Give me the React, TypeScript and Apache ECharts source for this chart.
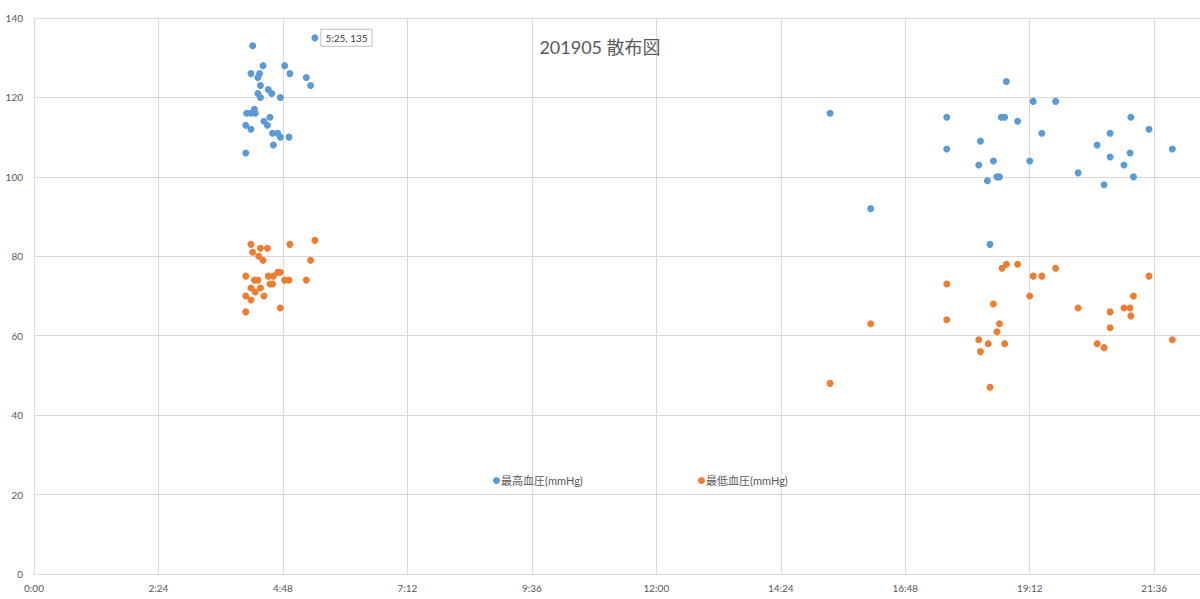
import React, { useEffect, useRef } from 'react';
import * as echarts from 'echarts';

// 時刻 (H:MM) と血圧の値
const highTimes = [
  '4:05', '4:05', '4:06', '4:11', '4:11', '4:11', '4:13', '4:15', '4:16', '4:19', '4:19',
  '4:21', '4:22', '4:22', '4:25', '4:26', '4:30', '4:31', '4:33', '4:35', '4:36', '4:37',
  '4:42', '4:45', '4:45', '4:50', '4:55', '4:56', '5:15', '5:20', '5:25',
  '15:21', '16:08', '17:36', '17:36', '18:13', '18:15', '18:23', '18:26', '18:30', '18:34',
  '18:37', '18:39', '18:43', '18:45', '18:58', '19:12', '19:16', '19:26', '19:42', '20:08',
  '20:30', '20:38', '20:45', '20:45', '21:01', '21:08', '21:09', '21:12', '21:30', '21:57'
];
const highValues = [
  106, 113, 116, 116, 112, 126, 133, 117, 116, 121, 125,
  126, 120, 123, 128, 114, 113, 122, 115, 121, 111, 108,
  111, 120, 110, 128, 110, 126, 125, 123, 135,
  116, 92, 115, 107, 103, 109, 99, 83, 104, 100,
  100, 115, 115, 124, 114, 104, 119, 111, 119, 101,
  108, 98, 111, 105, 103, 106, 115, 100, 112, 107
];

const lowTimes = [
  '4:05', '4:05', '4:05', '4:11', '4:11', '4:11', '4:13', '4:15', '4:16', '4:19', '4:20',
  '4:22', '4:22', '4:25', '4:26', '4:30', '4:31', '4:33', '4:36', '4:37', '4:42', '4:45',
  '4:45', '4:50', '4:55', '4:56', '5:15', '5:20', '5:25',
  '15:21', '16:08', '17:36', '17:36', '18:13', '18:15', '18:24', '18:26', '18:30', '18:34',
  '18:37', '18:40', '18:43', '18:45', '18:58', '19:12', '19:16', '19:26', '19:42', '20:08',
  '20:30', '20:38', '20:45', '20:45', '21:01', '21:08', '21:09', '21:12', '21:30', '21:57'
];
const lowValues = [
  75, 70, 66, 83, 72, 69, 81, 74, 71, 74, 80,
  82, 72, 79, 70, 82, 75, 73, 73, 75, 76, 76,
  67, 74, 74, 83, 74, 79, 84,
  48, 63, 73, 64, 59, 56, 58, 47, 68, 61,
  63, 77, 58, 78, 78, 70, 75, 75, 77, 67,
  58, 57, 66, 62, 67, 67, 65, 70, 75, 59
];

const seriesNames = ['最高血圧(mmHg)', '最低血圧(mmHg)'];
const colors = ['#5B9BD5', '#ED7D31'];
const titleText = '201905 散布図';
const labeledTime = '5:25';

const toMinutes = (t: string) => {
  const [h, m] = t.split(':').map(Number);
  return h * 60 + m;
};
const fmtTime = (v: number) =>
  `${Math.floor(v / 60)}:${String(Math.round(v % 60)).padStart(2, '0')}`;

const FONT = 'Lato, "Noto Sans CJK JP", sans-serif';

const App: React.FC = () => {
  const chartRef = useRef<HTMLDivElement>(null);

  useEffect(() => {
    document.body.style.margin = '0';
    if (!chartRef.current) return;
    const chart = echarts.init(chartRef.current, null, { renderer: 'svg' });

    const highData = highTimes.map((t, i) => {
      const point = [toMinutes(t), highValues[i]];
      if (t === labeledTime) {
        return {
          value: point,
          label: {
            show: true,
            position: 'right',
            distance: 3,
            formatter: `${fmtTime(point[0])}, ${point[1]}`,
            color: '#404040',
            fontSize: 10,
            fontFamily: FONT,
            backgroundColor: '#fff',
            borderColor: '#bfbfbf',
            borderWidth: 1,
            padding: [3, 4, 3, 4]
          }
        };
      }
      return point;
    });
    const lowData = lowTimes.map((t, i) => [toMinutes(t), lowValues[i]]);

    const legendText = { color: '#595959', fontSize: 11, fontFamily: FONT, padding: [0, 0, 0, -4] };

    chart.setOption({
      animation: false,
      backgroundColor: '#fff',
      title: {
        text: titleText,
        left: 'center',
        top: 33,
        textStyle: { color: '#595959', fontSize: 18, fontWeight: 'normal', fontFamily: FONT }
      },
      legend: [
        {
          data: [seriesNames[0]],
          left: 488,
          top: 470,
          icon: 'circle',
          itemWidth: 7,
          itemHeight: 7,
          textStyle: legendText
        },
        {
          data: [seriesNames[1]],
          left: 693,
          top: 470,
          icon: 'circle',
          itemWidth: 7,
          itemHeight: 7,
          textStyle: legendText
        }
      ],
      grid: { left: 34, right: 0, top: 18, bottom: 25 },
      xAxis: {
        type: 'value',
        min: 0,
        max: 1349,
        interval: 144,
        axisLine: { show: true, lineStyle: { color: '#d9d9d9' } },
        axisTick: { show: false },
        splitLine: { lineStyle: { color: '#d9d9d9' } },
        axisLabel: {
          color: '#595959',
          fontSize: 10,
          fontFamily: FONT,
          margin: 9,
          showMaxLabel: false,
          formatter: (v: number) => fmtTime(v)
        }
      },
      yAxis: {
        type: 'value',
        min: 0,
        max: 140,
        interval: 20,
        axisLine: { show: true, lineStyle: { color: '#d9d9d9' } },
        axisTick: { show: false },
        splitLine: { lineStyle: { color: '#d9d9d9' } },
        axisLabel: { color: '#595959', fontSize: 10, fontFamily: FONT, margin: 11 }
      },
      series: [
        {
          name: seriesNames[0],
          type: 'scatter',
          data: highData,
          symbolSize: 7,
          itemStyle: { color: colors[0], opacity: 1 }
        },
        {
          name: seriesNames[1],
          type: 'scatter',
          data: lowData,
          symbolSize: 7,
          itemStyle: { color: colors[1], opacity: 1 }
        }
      ]
    });

    return () => {
      chart.dispose();
    };
  }, []);

  return <div ref={chartRef} style={{ width: 1200, height: 599 }} />;
};

export default App;
